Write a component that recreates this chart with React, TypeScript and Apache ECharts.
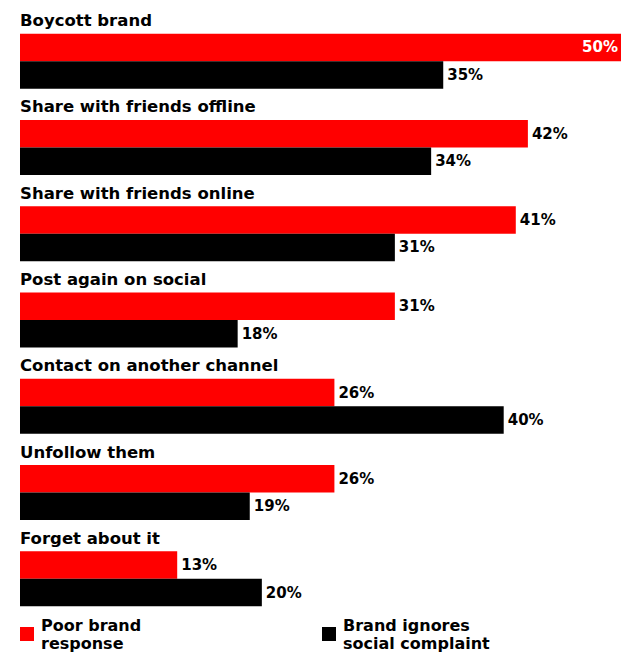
import React, { useEffect, useRef } from "react";
import * as echarts from "echarts";

const categories = [
  "Boycott brand",
  "Share with friends offline",
  "Share with friends online",
  "Post again on social",
  "Contact on another channel",
  "Unfollow them",
  "Forget about it",
];
const poorResponse = [50, 42, 41, 31, 26, 26, 13];
const ignoresComplaint = [35, 34, 31, 18, 40, 19, 20];
const seriesNames = ["Poor brand\nresponse", "Brand ignores\nsocial complaint"];

const FONT = "DejaVu Sans";

export default function App() {
  const ref = useRef<HTMLDivElement>(null);
  useEffect(() => {
    document.body.style.margin = "0";
    const chart = echarts.init(ref.current!, undefined, { renderer: "svg" });
    const valueLabel = {
      show: true,
      position: "right",
      distance: 4,
      fontFamily: FONT,
      fontWeight: "bold",
      fontSize: 15,
      color: "#000",
      formatter: (p: any) => p.value + "%",
    };
    const legendBase = {
      top: 616,
      padding: 0,
      itemWidth: 14,
      itemHeight: 14,
      itemGap: 0,
      icon: "rect",
      selectedMode: false,
      textStyle: {
        fontFamily: FONT,
        fontWeight: "bold",
        fontSize: 16,
        lineHeight: 18,
        color: "#000",
        padding: [0, 0, 0, 2],
      },
    };
    chart.setOption({
      animation: false,
      backgroundColor: "#fff",
      grid: { left: 20, right: 0, top: 18, bottom: 31 },
      xAxis: {
        type: "value",
        min: 0,
        max: 49.7,
        show: false,
      },
      yAxis: {
        type: "category",
        data: categories,
        inverse: true,
        show: false,
      },
      legend: [
        { ...legendBase, data: [seriesNames[0]], left: 20 },
        { ...legendBase, data: [seriesNames[1]], left: 322 },
      ],
      series: [
        {
          name: seriesNames[0],
          type: "bar",
          data: poorResponse.map((v) =>
            v >= 50
              ? {
                  value: v,
                  label: { position: "insideRight", color: "#fff", distance: 3 },
                }
              : v
          ),
          barWidth: 27.5,
          barGap: "0%",
          itemStyle: { color: "#ff0000" },
          label: valueLabel,
        },
        {
          name: seriesNames[1],
          type: "bar",
          data: ignoresComplaint,
          barWidth: 27.5,
          barGap: "0%",
          itemStyle: { color: "#000000" },
          label: valueLabel,
        },
        {
          name: "categoryLabels",
          type: "scatter",
          data: categories.map((c) => [0, c]),
          symbolSize: 0,
          silent: true,
          z: 5,
          itemStyle: { opacity: 1, color: "#000" },
          label: {
            show: true,
            position: "right",
            distance: 0,
            offset: [0, -40.5],
            opacity: 1,
            fontFamily: FONT,
            fontWeight: "bold",
            fontSize: 16.5,
            color: "#000",
            formatter: (p: any) => p.value[1],
          },
        },
      ],
    });
    return () => chart.dispose();
  }, []);
  return <div ref={ref} style={{ width: 621, height: 653 }} />;
}
